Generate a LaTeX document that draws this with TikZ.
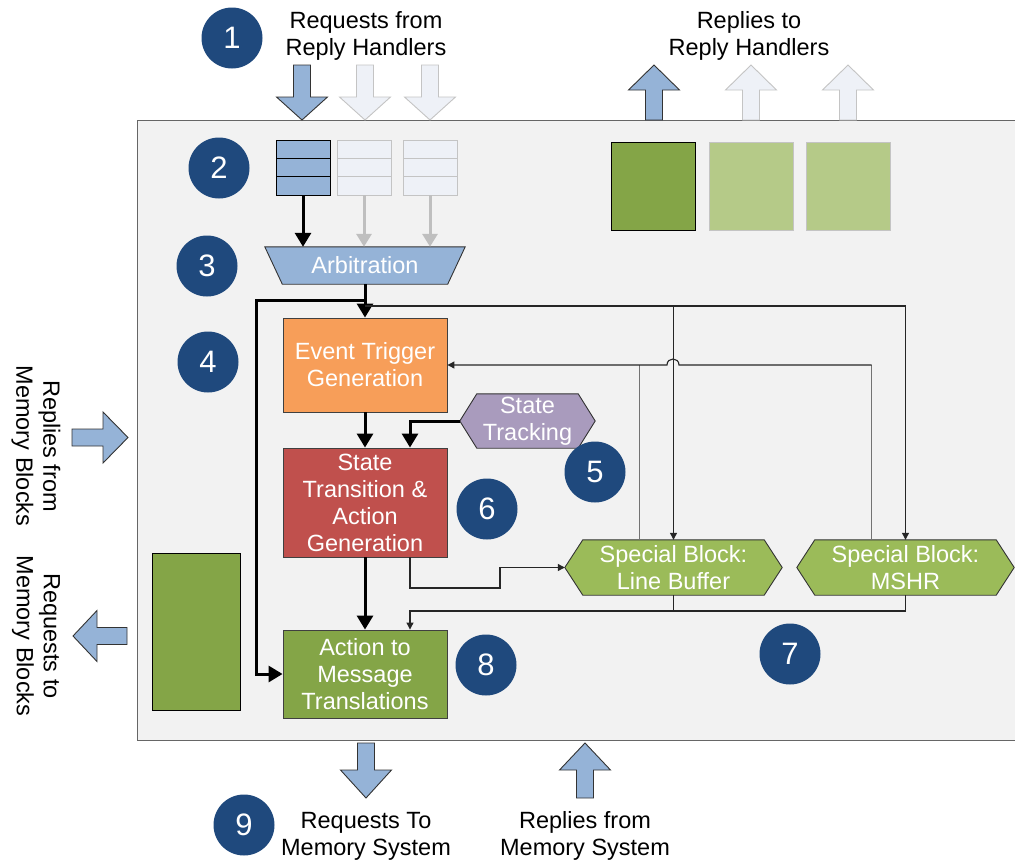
\documentclass[tikz,border=0pt]{standalone}
\usepackage{fontspec}
\setmainfont{Liberation Sans}
\usetikzlibrary{arrows.meta,calc}
\pgfdeclarelayer{back}
\pgfsetlayers{back,main}

\definecolor{numblue}{HTML}{1F497D}
\definecolor{arrblue}{HTML}{95B3D7}
\definecolor{ghost}{HTML}{EEF1F7}
\definecolor{ghostedge}{HTML}{C4C4C4}
\definecolor{panel}{HTML}{F2F2F2}
\definecolor{orangebox}{HTML}{F79E59}
\definecolor{redbox}{HTML}{C0504D}
\definecolor{purplebox}{HTML}{A99BBD}
\definecolor{greenhex}{HTML}{9BBB59}
\definecolor{darkgreen}{HTML}{84A547}
\definecolor{lightgreen}{HTML}{B5CA88}

% vertical block arrow: x, tail y, head-base y, tip y, style
\newcommand\vblkarrow[5]{%
  \draw[#5] (#1-8.5,#2) -- (#1+8.5,#2) -- (#1+8.5,#3) -- (#1+25.5,#3) -- (#1,#4)
    -- (#1-25.5,#3) -- (#1-8.5,#3) -- cycle;}
% horizontal block arrow: y, tail x, head-base x, tip x, style
\newcommand\hblkarrow[5]{%
  \draw[#5] (#2,#1-8.5) -- (#3,#1-8.5) -- (#3,#1-25.5) -- (#4,#1)
    -- (#3,#1+25.5) -- (#3,#1+8.5) -- (#2,#1+8.5) -- cycle;}
% hexagonal outline behind a named node: node, point depth, style
\newcommand\hexback[3]{%
  \begin{pgfonlayer}{back}
  \draw[#3] (#1.west) -- ([xshift=#2]#1.north west) -- ([xshift=-#2]#1.north east)
    -- (#1.east) -- ([xshift=-#2]#1.south east) -- ([xshift=#2]#1.south west) -- cycle;
  \end{pgfonlayer}}

\tikzset{
  lbl/.style={align=center, inner sep=0pt, font=\fontsize{23.5}{27}\selectfont},
  boxtxt/.style={align=center, inner sep=0pt, text=white, font=\fontsize{23.5}{27}\selectfont},
  blk/.style={boxtxt, draw=black!75, line width=0.9pt, minimum width=164},
  num/.style={circle, fill=numblue, text=white, minimum size=61, inner sep=0pt,
    font=\fontsize{31}{31}\selectfont},
  queue/.style={minimum width=54, minimum height=55, inner sep=0pt, line width=0.9pt,
    path picture={
      \draw[#1] ($(path picture bounding box.north west)!1/3!(path picture bounding box.south west)$)
        -- ($(path picture bounding box.north east)!1/3!(path picture bounding box.south east)$);
      \draw[#1] ($(path picture bounding box.north west)!2/3!(path picture bounding box.south west)$)
        -- ($(path picture bounding box.north east)!2/3!(path picture bounding box.south east)$);}},
  thickarr/.style={line width=3pt, -{Triangle[width=16pt,length=14pt]}},
  ghostarr/.style={line width=3pt, draw=black!25, -{Triangle[width=15pt,length=13pt]}},
  thinarr/.style={line width=1.1pt, draw=black!85, -{Triangle[width=7pt,length=7pt]}},
  thinline/.style={line width=1.1pt, draw=black!85},
  greyline/.style={line width=1.1pt, draw=black!55},
  solidarrow/.style={fill=arrblue, draw=black!80, line width=0.9pt},
  ghostarrow/.style={fill=ghost, draw=ghostedge, line width=0.9pt},
}

\begin{document}
\begin{tikzpicture}[x=1pt,y=-1pt]
\useasboundingbox (0,0) rectangle (1015,865);

% controller panel
\begin{pgfonlayer}{back}
  \draw[fill=panel, draw=black!60, line width=1pt] (137,120) rectangle (1018,740);
\end{pgfonlayer}

% outside labels
\node[lbl] (reqRH) at (366,36) {Requests from\\Reply Handlers};
\node[lbl] (repRH) at (749,36) {Replies to\\Reply Handlers};
\node[lbl, rotate=-90] (repMB) at (36,446) {Replies from\\Memory Blocks};
\node[lbl, rotate=-90] (reqMB) at (36,636) {Requests to\\Memory Blocks};
\node[lbl] (reqMS) at (366,836) {Requests To\\Memory System};
\node[lbl] (repMS) at (585,836) {Replies from\\Memory System};

% block arrows across the panel border
\vblkarrow{302}{65}{97}{120}{solidarrow}
\vblkarrow{365}{65}{97}{120}{ghostarrow}
\vblkarrow{430}{65}{97}{120}{ghostarrow}
\vblkarrow{654}{120}{90}{65}{solidarrow}
\vblkarrow{751}{120}{90}{65}{ghostarrow}
\vblkarrow{848}{120}{90}{65}{ghostarrow}
\hblkarrow{437.5}{72}{103}{128}{solidarrow}
\hblkarrow{636}{127}{97}{73}{solidarrow}
\vblkarrow{366}{743}{770}{798}{solidarrow}
\vblkarrow{585}{798}{770}{743}{solidarrow}

% input queues
\node[queue=black, fill=arrblue, draw=black] (q1) at (303,167.5) {};
\node[queue=ghostedge, fill=ghost, draw=ghostedge] (q2) at (364,167.5) {};
\node[queue=ghostedge, fill=ghost, draw=ghostedge] (q3) at (430,167.5) {};

% reply buffers
\node[fill=darkgreen, draw=black, line width=0.9pt, minimum width=84, minimum height=88, inner sep=0pt] (rb1) at (653,186) {};
\node[fill=lightgreen, draw=ghostedge, line width=0.9pt, minimum width=84, minimum height=88, inner sep=0pt] (rb2) at (751,186) {};
\node[fill=lightgreen, draw=ghostedge, line width=0.9pt, minimum width=84, minimum height=88, inner sep=0pt] (rb3) at (848,186) {};

% request buffer to memory blocks
\node[fill=darkgreen, draw=black, line width=0.9pt, minimum width=88, minimum height=157, inner sep=0pt] (mbuf) at (196,631.5) {};

% arbitration (trapezoid)
\node[boxtxt, minimum width=200, minimum height=37] (arb) at (365,265.5) {Arbitration};
\begin{pgfonlayer}{back}
  \draw[fill=arrblue, draw=black!80, line width=0.9pt] (arb.north west) -- (arb.north east)
    -- ([xshift=-17.5]arb.south east) -- ([xshift=17.5]arb.south west) -- cycle;
\end{pgfonlayer}

% pipeline stages
\node[blk, fill=orangebox, minimum height=94] (etg) at (365,365) {Event Trigger\\Generation};
\node[blk, fill=redbox, minimum height=109] (stg) at (365,502.5) {State\\Transition \&\\Action\\Generation};
\node[blk, fill=darkgreen, minimum height=88] (atm) at (365,674) {Action to\\Message\\Translations};

% hexagonal blocks
\node[boxtxt, minimum width=135, minimum height=54] (st) at (527.5,421) {State\\Tracking};
\hexback{st}{17}{fill=purplebox, draw=black!80, line width=0.9pt}
\node[boxtxt, minimum width=217, minimum height=55] (lb) at (673.5,567.5) {Special Block:\\Line Buffer};
\hexback{lb}{18}{fill=greenhex, draw=black!80, line width=0.9pt}
\node[boxtxt, minimum width=217, minimum height=55] (mshr) at (905.5,567.5) {Special Block:\\MSHR};
\hexback{mshr}{18}{fill=greenhex, draw=black!80, line width=0.9pt}

% numbered markers
\node[num] (n1) at (232,38) {1};
\node[num] (n2) at (219,168) {2};
\node[num] (n3) at (207,266) {3};
\node[num] (n4) at (208,362) {4};
\node[num] (n5) at (595,472) {5};
\node[num] (n6) at (487,509) {6};
\node[num] (n7) at (790,654) {7};
\node[num] (n8) at (486,665) {8};
\node[num] (n9) at (244,825) {9};

% queues to arbitration
\draw[thickarr] (q1.south) -- (q1.south |- arb.north);
\draw[ghostarr] (q2.south) -- (q2.south |- arb.north);
\draw[ghostarr] (q3.south) -- (q3.south |- arb.north);

% main pipeline
\coordinate (bypass) at (365,300);
\coordinate (tap) at (365,306);
\draw[thickarr] (arb.south) -- (etg.north);
\draw[thickarr] (bypass) -| (256,674) -- (atm.west);
\draw[thickarr] (etg.south) -- (stg.north);
\draw[thickarr] (st.west) -| ([xshift=45]stg.north);
\draw[thickarr] (stg.south) -- (atm.north);

% requests to the special blocks
\draw[thinarr] (tap) -| (mshr.north);
\draw[thinarr] (lb.north |- tap) -- (lb.north);
\draw[thinarr] ([xshift=45]stg.south) |- (500,588) |- (lb.west);

% special-block events back to event trigger generation
\draw[greyline] ([xshift=-34]mshr.north) -- ([xshift=-34]mshr.north |- etg.east);
\draw[greyline] ([xshift=-34]lb.north) -- ([xshift=-34]lb.north |- etg.east);
\draw[thinarr] ([xshift=-34]mshr.north |- etg.east) -- (679,365)
  .. controls (679,357) and (667,357) .. (667,365) -- (etg.east);

% special-block results to message translation
\coordinate (merge) at (410,611);
\draw[thinline] (lb.south) -- (lb.south |- merge);
\draw[thinarr] (mshr.south) |- (merge) -- ([xshift=45]atm.north);
\end{tikzpicture}
\end{document}
